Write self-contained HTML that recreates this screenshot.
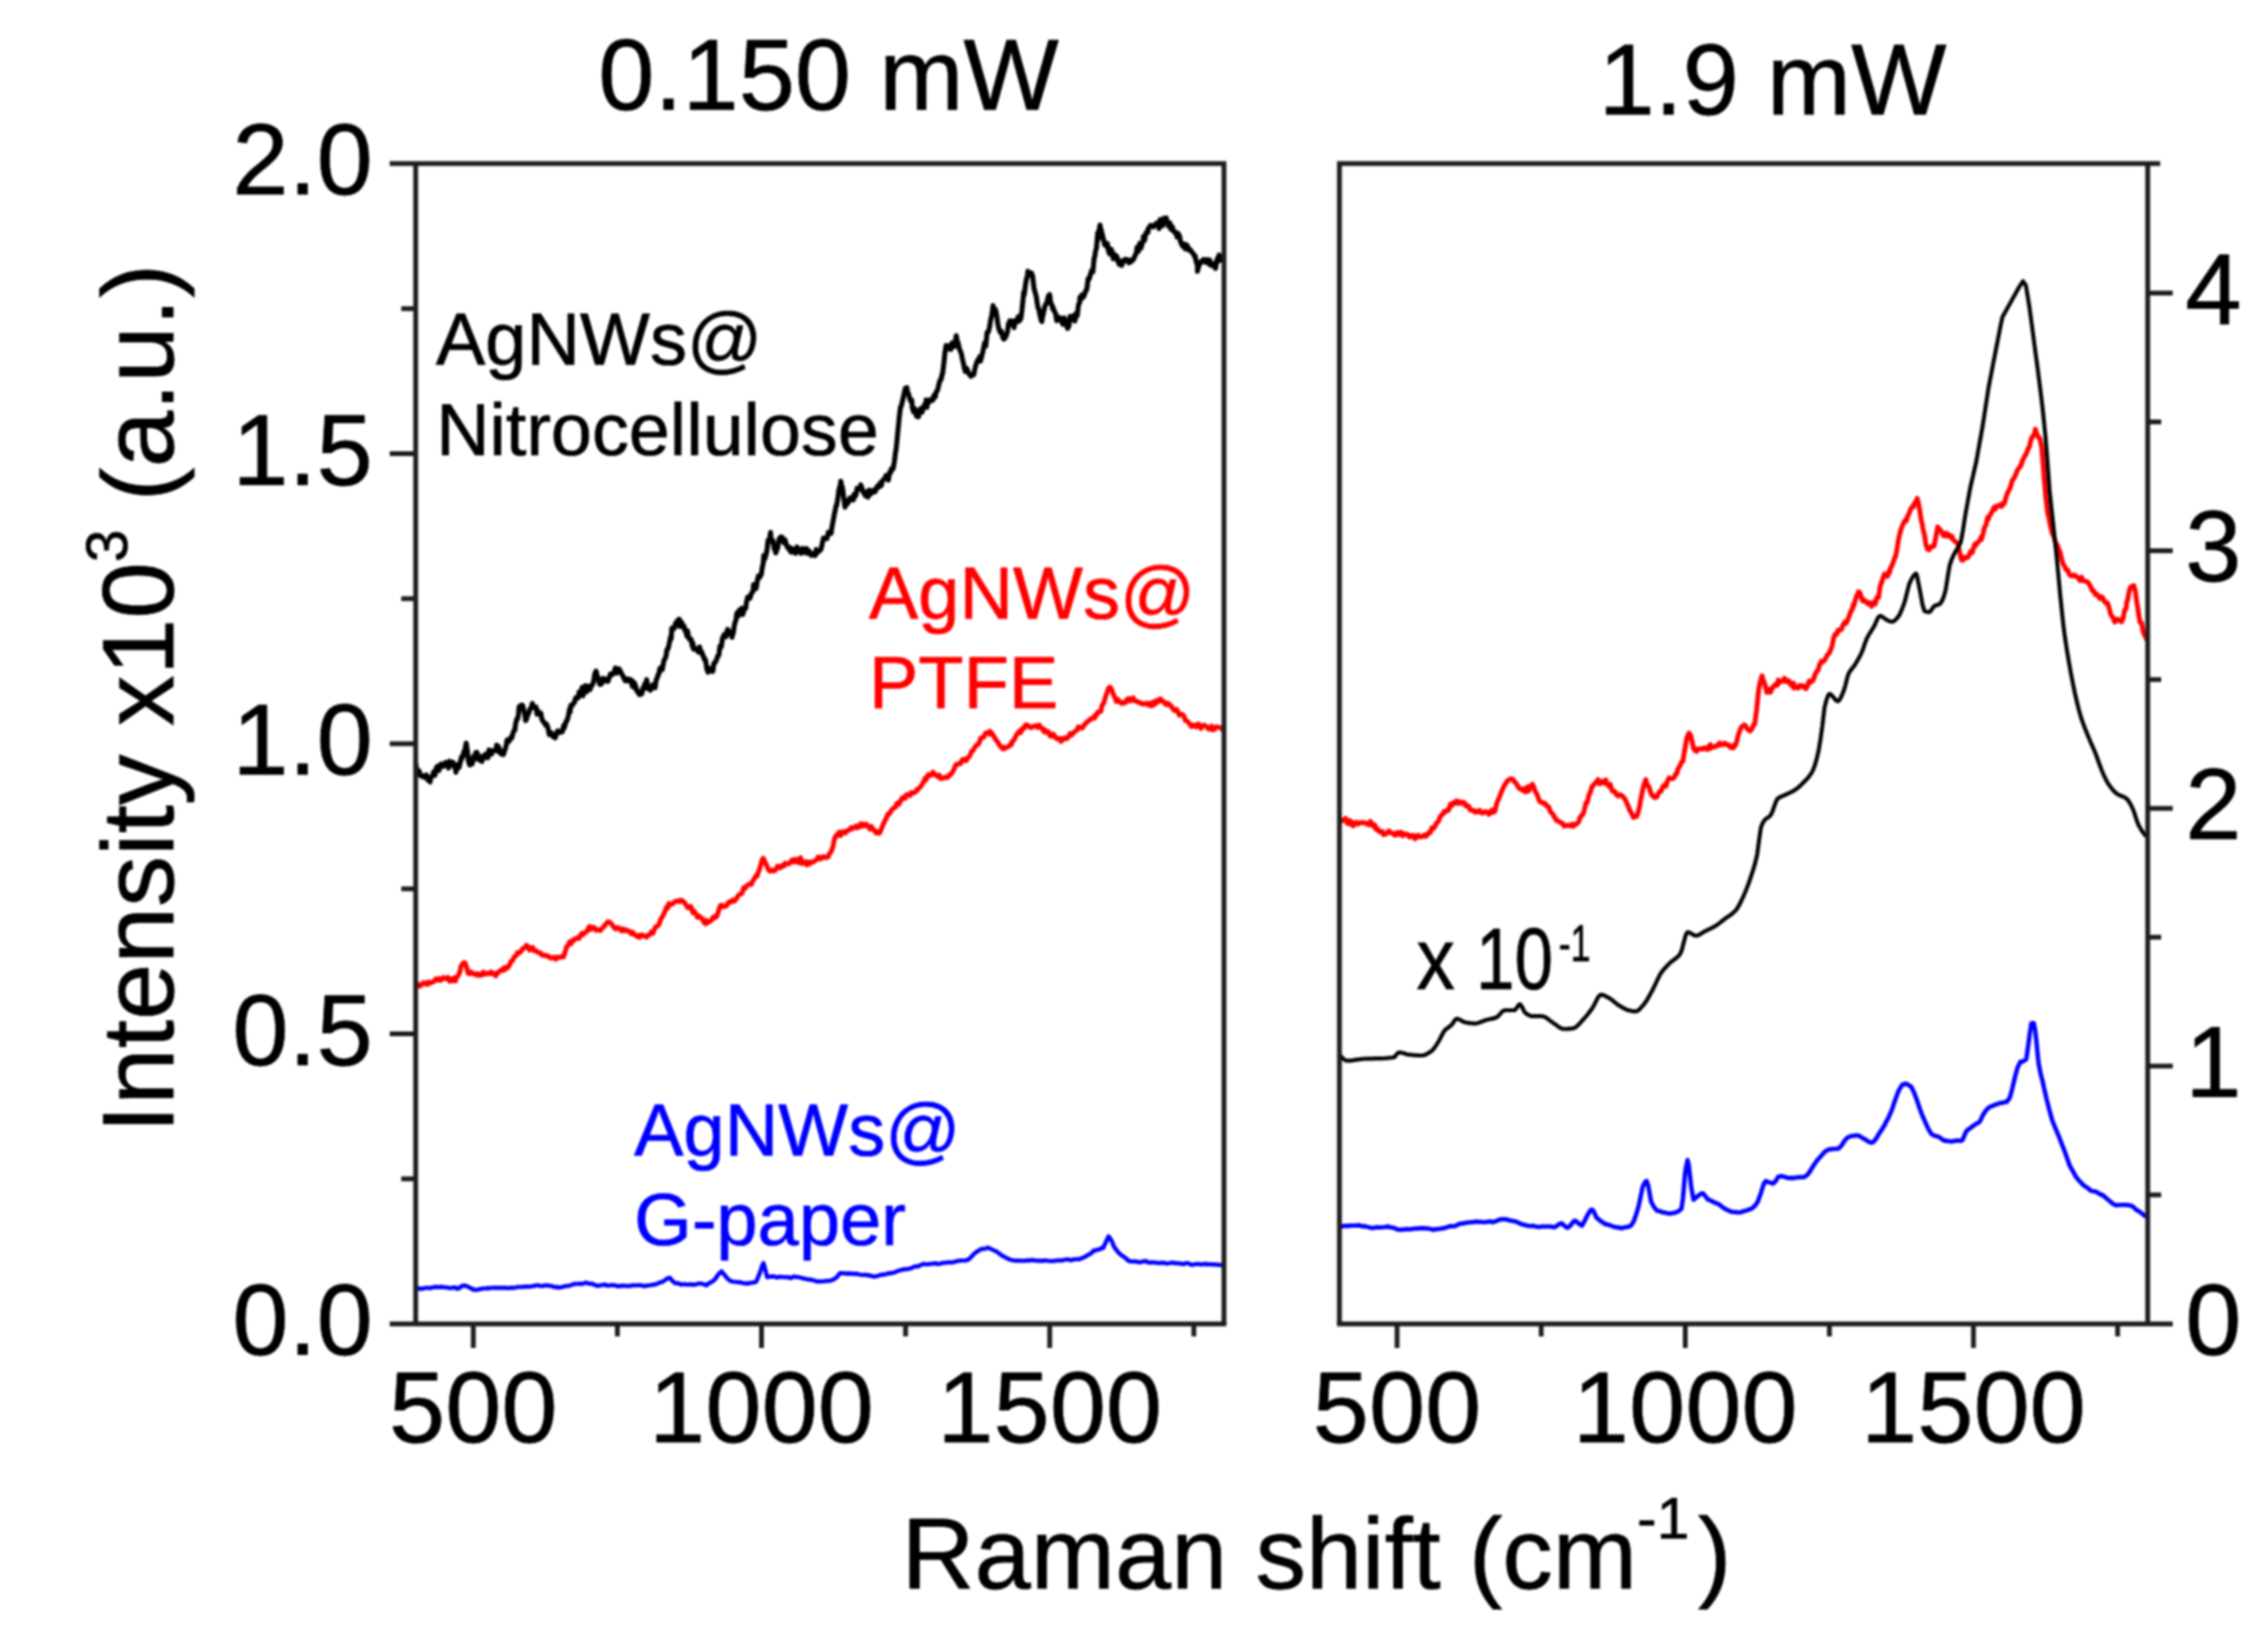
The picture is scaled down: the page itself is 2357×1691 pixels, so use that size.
<!DOCTYPE html>
<html><head><meta charset="utf-8"><title>Raman spectra</title>
<style>html,body{margin:0;padding:0;background:#fff}body{width:2357px;height:1691px;overflow:hidden}</style></head>
<body>
<svg width="2357" height="1691" viewBox="0 0 2357 1691" style="display:block;filter:blur(0.8px)">
<rect width="2357" height="1691" fill="#fff"/>
<g fill="none" stroke-linejoin="round" stroke-linecap="butt">
<path d="M432.0 793.8 L433.2 799.5 L434.5 803.1 L435.8 801.5 L436.2 805.6 L437.0 805.8 L438.2 806.9 L439.5 806.1 L440.8 807.8 L442.0 807.1 L443.2 805.4 L444.5 810.6 L445.8 810.7 L447.0 812.7 L447.5 808.9 L448.2 807.6 L449.5 806.2 L450.8 802.1 L452.0 805.8 L453.2 798.8 L454.5 796.6 L455.8 797.4 L456.2 800.9 L457.0 797.6 L458.2 794.0 L459.5 794.1 L460.8 796.5 L462.0 794.2 L463.2 792.4 L464.5 793.4 L465.8 795.5 L466.2 798.3 L467.0 791.1 L468.2 793.4 L469.5 794.4 L470.8 792.2 L472.0 797.0 L473.2 797.6 L473.8 802.6 L474.5 799.5 L475.8 794.7 L477.0 797.9 L478.2 793.0 L479.5 787.0 L480.0 788.6 L480.8 786.6 L482.0 781.5 L483.2 779.4 L484.5 772.3 L485.8 781.3 L487.0 791.9 L488.0 794.5 L488.2 795.0 L489.5 794.3 L490.8 793.8 L492.0 786.1 L493.2 789.2 L494.5 782.1 L495.0 784.9 L495.8 781.9 L497.0 788.9 L498.2 789.8 L499.5 786.6 L500.8 791.4 L502.0 785.9 L502.5 787.8 L503.2 787.7 L504.5 783.8 L505.8 785.7 L507.0 787.5 L508.2 779.3 L508.8 783.3 L509.5 780.4 L510.8 783.9 L512.0 780.2 L513.2 779.9 L514.5 779.3 L515.8 778.1 L516.2 774.3 L517.0 781.0 L518.2 776.1 L519.5 781.6 L520.8 783.8 L521.2 780.6 L522.0 782.7 L523.2 784.2 L524.5 780.0 L525.8 776.0 L527.0 769.1 L528.2 771.2 L529.5 769.6 L530.0 768.8 L530.8 766.3 L532.0 766.7 L533.2 761.4 L534.5 758.9 L535.0 759.1 L535.8 752.5 L537.0 747.3 L538.2 746.8 L538.8 742.0 L539.5 734.6 L540.8 733.6 L542.0 732.8 L542.5 734.1 L543.2 733.3 L544.5 739.0 L545.8 745.0 L546.2 749.0 L547.0 747.8 L548.2 743.7 L549.5 741.1 L550.8 736.8 L552.0 736.2 L553.2 731.1 L553.8 733.6 L554.5 734.8 L555.8 735.5 L557.0 734.8 L558.2 742.3 L558.8 738.4 L559.5 742.1 L560.8 741.4 L562.0 741.2 L563.2 747.7 L564.5 749.9 L565.8 751.0 L567.0 753.7 L567.5 752.3 L568.2 753.2 L569.5 756.5 L570.8 763.5 L572.0 763.0 L573.2 761.7 L574.5 765.5 L575.8 763.8 L576.2 763.9 L577.0 766.9 L578.2 763.2 L579.5 759.8 L580.8 760.4 L582.0 761.2 L583.2 759.7 L584.5 760.5 L585.8 754.1 L586.2 756.7 L587.0 754.6 L588.2 750.0 L589.5 748.3 L590.8 743.4 L592.0 736.7 L592.5 740.0 L593.2 733.1 L594.5 733.6 L595.8 731.2 L597.0 730.0 L598.2 725.4 L598.8 726.2 L599.5 724.7 L600.8 725.2 L602.0 719.1 L603.2 719.3 L604.5 717.3 L605.0 714.5 L605.8 723.2 L607.0 716.4 L608.2 712.7 L609.5 719.1 L610.8 713.1 L612.0 716.1 L613.2 716.7 L614.5 712.6 L615.0 712.8 L615.8 711.3 L617.0 708.1 L618.2 699.9 L619.5 697.5 L620.0 699.7 L620.8 703.0 L622.0 705.0 L623.2 711.2 L624.5 711.3 L625.0 708.8 L625.8 709.7 L627.0 705.0 L628.2 706.9 L629.5 706.0 L630.8 708.1 L632.0 708.1 L632.5 705.0 L633.2 704.2 L634.5 700.4 L635.8 701.5 L637.0 700.2 L638.2 698.6 L639.5 694.2 L640.8 699.7 L641.2 697.7 L642.0 695.0 L643.2 695.0 L644.5 697.1 L645.8 700.1 L647.0 701.7 L648.2 704.4 L648.8 705.5 L649.5 707.5 L650.8 707.8 L652.0 705.6 L653.2 707.4 L654.5 706.2 L655.8 706.5 L657.0 713.0 L658.2 708.5 L658.8 714.6 L659.5 710.1 L660.8 713.8 L662.0 718.5 L663.2 718.8 L664.5 722.0 L665.8 721.8 L666.2 721.4 L667.0 720.9 L668.2 714.8 L669.5 715.5 L670.0 710.9 L670.8 715.4 L672.0 706.4 L673.2 714.0 L674.5 716.2 L675.0 714.3 L675.8 717.4 L677.0 715.5 L678.2 711.9 L679.5 711.6 L680.8 714.9 L682.0 706.5 L683.2 704.2 L683.8 701.5 L684.5 701.2 L685.8 694.8 L687.0 693.8 L688.2 696.1 L689.5 689.0 L690.0 686.5 L690.8 685.1 L692.0 682.6 L693.2 675.0 L694.5 673.8 L695.8 667.3 L697.0 661.6 L697.5 664.0 L698.2 652.8 L699.5 654.0 L700.8 653.0 L702.0 647.7 L703.2 647.2 L704.5 644.5 L705.8 643.6 L706.2 651.2 L707.0 646.7 L708.2 646.4 L709.5 651.6 L710.8 650.6 L712.0 655.9 L713.2 657.4 L713.8 661.2 L714.5 655.7 L715.8 663.4 L717.0 664.7 L718.2 664.3 L719.5 671.7 L720.0 668.0 L720.8 674.7 L722.0 673.5 L723.2 675.1 L724.5 674.8 L725.8 677.7 L727.0 672.4 L728.2 678.1 L729.5 677.9 L730.0 680.7 L730.8 681.1 L732.0 685.5 L733.2 685.5 L734.5 694.9 L735.8 698.7 L737.0 694.4 L737.5 695.0 L738.2 695.6 L739.5 697.2 L740.8 697.7 L742.0 689.2 L743.2 688.8 L744.5 685.9 L745.0 684.9 L745.8 681.8 L747.0 681.2 L748.2 671.5 L749.5 672.4 L750.0 669.6 L750.8 663.4 L752.0 660.6 L753.2 659.1 L754.5 661.8 L755.8 655.6 L756.2 654.1 L757.0 657.5 L758.2 658.8 L759.5 656.9 L760.8 662.4 L761.2 659.3 L762.0 658.5 L763.2 649.6 L764.5 645.2 L765.0 643.4 L765.8 637.0 L767.0 640.7 L768.2 634.2 L769.5 636.8 L770.8 632.1 L772.0 638.8 L773.2 633.4 L774.5 632.8 L775.0 632.1 L775.8 625.5 L777.0 620.6 L778.2 622.1 L779.5 621.7 L780.8 616.7 L782.0 615.4 L782.5 614.7 L783.2 607.6 L784.5 609.6 L785.8 611.6 L787.0 603.9 L788.2 598.6 L789.5 600.2 L790.8 596.6 L791.2 597.2 L792.0 590.7 L793.2 585.2 L793.8 577.4 L794.5 581.4 L795.8 577.8 L797.0 572.2 L798.2 561.5 L799.5 562.6 L800.8 553.3 L801.2 560.7 L802.0 560.6 L803.2 562.1 L804.5 569.8 L805.8 572.5 L806.2 574.7 L807.0 572.2 L808.2 569.7 L809.5 560.7 L810.8 558.7 L812.0 557.9 L812.5 559.4 L813.2 559.0 L814.5 564.0 L815.8 561.0 L817.0 565.1 L818.2 568.6 L819.5 569.2 L820.0 571.1 L820.8 569.0 L822.0 573.9 L823.2 570.2 L824.5 573.7 L825.8 571.3 L827.0 575.0 L828.2 568.5 L829.5 573.1 L830.8 571.1 L832.0 572.9 L832.5 575.2 L833.2 570.1 L834.5 570.0 L835.8 571.2 L837.0 574.5 L838.2 570.1 L839.5 575.1 L840.0 572.0 L840.8 572.6 L842.0 574.9 L843.2 577.2 L844.5 575.4 L845.8 576.1 L847.0 577.4 L847.5 576.9 L848.2 571.0 L849.5 574.5 L850.8 573.0 L852.0 572.1 L853.2 571.0 L854.5 565.0 L855.0 562.7 L855.8 559.1 L857.0 559.9 L858.2 560.0 L859.5 559.7 L860.8 553.2 L862.0 553.9 L863.2 553.0 L863.8 554.3 L864.5 548.5 L865.8 541.5 L867.0 534.9 L868.2 529.2 L868.8 526.0 L869.5 525.2 L870.8 517.2 L872.0 508.4 L873.2 504.5 L873.8 500.2 L874.5 503.6 L875.8 508.7 L877.0 518.4 L878.2 527.2 L878.8 524.9 L879.5 520.6 L880.8 523.5 L882.0 521.1 L883.2 517.6 L884.5 517.4 L885.8 519.6 L887.0 519.5 L887.5 513.9 L888.2 516.3 L889.5 514.8 L890.8 507.5 L892.0 508.4 L893.2 507.5 L893.8 507.9 L894.5 503.9 L895.8 507.4 L897.0 511.5 L898.2 513.0 L899.5 515.4 L900.8 511.2 L902.0 516.8 L902.5 514.0 L903.2 509.3 L904.5 513.8 L905.8 510.6 L907.0 511.7 L908.2 509.2 L909.5 511.0 L910.8 507.5 L912.0 504.9 L913.2 506.5 L914.5 503.6 L915.0 501.6 L915.8 504.8 L917.0 499.8 L918.2 498.3 L919.5 497.4 L920.8 494.2 L922.0 495.0 L923.2 499.0 L924.5 490.9 L925.8 491.0 L926.2 487.5 L927.0 486.8 L928.2 487.1 L929.5 479.6 L930.8 469.1 L931.2 467.5 L932.0 460.0 L933.2 447.6 L934.5 433.9 L935.8 423.2 L936.2 423.2 L937.0 420.6 L938.2 415.4 L939.5 409.6 L940.8 403.7 L942.0 405.0 L942.5 402.9 L943.2 407.7 L944.5 410.4 L945.8 415.7 L947.0 417.8 L947.5 415.8 L948.2 424.1 L949.5 428.1 L950.8 424.7 L952.0 430.1 L952.5 432.7 L953.2 427.4 L954.5 433.3 L955.8 427.4 L957.0 424.4 L958.2 428.4 L959.5 424.3 L960.8 420.5 L962.0 422.5 L962.5 415.5 L963.2 423.5 L964.5 416.3 L965.8 417.8 L967.0 415.2 L968.2 416.1 L969.5 415.9 L970.8 410.6 L972.0 412.6 L972.5 409.3 L973.2 407.0 L974.5 405.0 L975.8 399.2 L977.0 395.1 L978.2 394.2 L978.8 389.7 L979.5 388.8 L980.8 378.7 L982.0 366.8 L983.2 359.0 L983.8 360.9 L984.5 362.6 L985.8 361.5 L987.0 359.3 L988.2 363.2 L989.5 356.3 L990.0 357.1 L990.8 359.0 L992.0 359.9 L993.2 352.6 L993.8 348.9 L994.5 353.3 L995.8 356.8 L997.0 362.6 L998.2 365.2 L999.5 369.2 L1000.0 372.8 L1000.8 375.4 L1002.0 381.5 L1003.2 386.0 L1004.5 382.7 L1005.8 385.8 L1007.0 388.7 L1008.2 389.3 L1008.8 391.1 L1009.5 390.9 L1010.8 389.0 L1012.0 389.3 L1013.2 383.1 L1014.5 378.3 L1015.8 374.7 L1016.2 375.1 L1017.0 374.1 L1018.2 370.6 L1018.8 375.5 L1019.5 373.0 L1020.8 368.1 L1022.0 362.7 L1023.2 356.6 L1023.8 356.0 L1024.5 359.8 L1025.8 345.4 L1027.0 345.3 L1028.2 341.1 L1028.8 337.1 L1029.5 332.6 L1030.8 327.5 L1032.0 317.5 L1032.6 320.5 L1033.2 323.2 L1034.5 321.5 L1035.8 327.5 L1036.4 332.1 L1037.0 336.4 L1038.2 342.3 L1039.5 345.4 L1040.1 344.0 L1040.8 344.4 L1042.0 350.3 L1043.2 352.5 L1043.9 349.3 L1044.5 351.4 L1045.8 348.4 L1047.0 344.9 L1048.2 335.8 L1048.9 338.1 L1049.5 333.4 L1050.8 333.9 L1052.0 333.8 L1053.2 336.8 L1053.9 340.6 L1054.5 333.4 L1055.8 333.7 L1057.0 334.7 L1058.2 329.1 L1059.5 333.5 L1059.6 328.9 L1060.8 331.7 L1062.0 322.8 L1063.2 311.0 L1063.9 303.6 L1064.5 306.1 L1065.8 295.3 L1067.0 288.8 L1067.7 287.9 L1068.2 281.8 L1069.5 285.0 L1070.8 285.3 L1071.5 283.6 L1072.0 283.9 L1073.2 287.2 L1074.5 299.1 L1075.2 302.1 L1075.8 304.1 L1077.0 308.4 L1078.2 317.0 L1079.0 320.8 L1079.5 320.9 L1080.8 327.5 L1082.0 332.7 L1082.8 334.2 L1083.2 330.5 L1084.5 325.1 L1085.8 318.6 L1086.5 316.7 L1087.0 316.5 L1088.2 313.6 L1089.5 307.6 L1090.3 308.3 L1090.8 306.1 L1092.0 315.3 L1093.2 316.9 L1094.0 321.3 L1094.5 319.9 L1095.8 323.8 L1097.0 325.6 L1098.2 333.3 L1099.5 331.9 L1100.3 331.4 L1100.8 329.8 L1102.0 331.1 L1103.2 334.2 L1104.5 337.0 L1105.8 330.4 L1106.6 332.2 L1107.0 334.6 L1108.2 338.5 L1109.1 338.0 L1109.5 341.5 L1110.8 339.3 L1112.0 328.9 L1112.9 331.0 L1113.2 332.3 L1114.5 331.5 L1115.8 327.8 L1117.0 333.6 L1118.2 328.9 L1119.1 324.9 L1119.5 328.2 L1120.8 316.8 L1122.0 314.6 L1122.3 308.8 L1123.2 311.4 L1124.5 306.4 L1125.8 308.9 L1127.0 306.3 L1127.9 303.9 L1128.2 302.2 L1129.5 300.9 L1130.8 289.7 L1132.0 289.9 L1132.9 286.3 L1133.2 285.4 L1134.5 281.1 L1135.8 282.6 L1137.0 268.8 L1137.9 265.9 L1138.2 262.7 L1139.5 257.6 L1140.8 241.9 L1141.1 249.1 L1142.0 240.4 L1143.2 233.9 L1143.6 236.5 L1144.5 239.8 L1145.8 245.0 L1147.0 249.7 L1148.0 254.6 L1148.2 253.3 L1149.5 255.7 L1150.8 253.0 L1152.0 261.0 L1153.2 263.9 L1154.2 261.8 L1154.5 258.8 L1155.8 261.2 L1157.0 269.0 L1158.2 264.6 L1159.5 265.6 L1160.8 266.7 L1161.8 271.9 L1162.0 269.9 L1163.0 274.6 L1163.2 273.1 L1164.5 275.3 L1165.8 275.8 L1167.0 271.0 L1168.2 271.6 L1169.3 269.5 L1169.5 269.4 L1170.8 269.8 L1172.0 270.1 L1173.2 273.2 L1174.5 272.5 L1175.5 270.2 L1175.8 271.8 L1177.0 270.3 L1178.2 269.3 L1179.5 265.7 L1180.8 263.4 L1181.8 256.9 L1182.0 260.8 L1183.2 261.0 L1184.5 252.9 L1185.8 257.8 L1187.0 252.8 L1188.1 249.8 L1188.2 245.8 L1189.5 249.9 L1190.8 242.4 L1192.0 240.9 L1193.1 241.5 L1193.2 237.7 L1194.5 236.1 L1195.8 234.2 L1197.0 235.3 L1198.2 235.9 L1199.4 234.9 L1199.5 234.8 L1200.8 232.8 L1202.0 233.7 L1203.2 231.6 L1204.5 237.6 L1205.6 233.1 L1205.8 228.2 L1207.0 229.5 L1208.2 234.7 L1209.5 226.9 L1210.8 228.2 L1211.9 229.9 L1212.0 226.4 L1213.2 232.1 L1214.5 235.2 L1215.8 231.6 L1217.0 238.4 L1218.2 235.7 L1218.2 235.5 L1219.5 240.0 L1220.8 241.6 L1222.0 241.3 L1223.2 246.3 L1224.5 242.7 L1225.7 245.8 L1225.8 245.3 L1227.0 251.7 L1228.2 254.3 L1229.5 256.3 L1230.8 253.7 L1232.0 258.1 L1232.0 258.8 L1233.2 254.4 L1234.5 256.5 L1235.8 260.1 L1237.0 260.6 L1237.0 259.6 L1238.2 261.4 L1239.5 262.9 L1240.8 265.2 L1242.0 267.5 L1242.0 265.8 L1243.2 272.3 L1244.5 275.7 L1244.5 281.9 L1245.8 276.5 L1247.0 274.4 L1248.2 272.0 L1249.5 270.7 L1250.8 269.7 L1250.8 271.6 L1252.0 270.4 L1253.2 272.7 L1254.5 269.8 L1255.8 272.9 L1257.0 274.8 L1257.1 270.2 L1258.2 274.3 L1259.5 276.2 L1260.8 276.4 L1262.0 276.7 L1262.1 273.6 L1263.2 279.0 L1264.5 270.9 L1265.8 267.5 L1265.8 271.8 L1267.0 265.0 L1268.2 270.4 L1269.5 268.3 L1270.8 268.1 L1272.0 266.6" stroke="#000" stroke-width="5.2"/>
<path d="M432.0 1025.0 L433.6 1025.3 L435.2 1023.2 L436.8 1024.9 L438.4 1023.2 L440.0 1021.4 L441.6 1022.1 L443.2 1023.2 L444.8 1022.5 L445.0 1020.6 L446.4 1022.3 L448.0 1020.9 L449.6 1020.8 L451.2 1020.0 L452.8 1017.5 L454.4 1018.6 L456.0 1016.9 L457.6 1019.1 L459.2 1017.9 L460.0 1017.1 L460.8 1015.8 L462.4 1017.1 L464.0 1017.3 L465.6 1015.7 L467.2 1019.9 L468.8 1017.8 L470.4 1019.5 L472.0 1016.1 L473.6 1019.5 L473.8 1015.9 L475.2 1015.3 L476.8 1013.1 L478.4 1008.4 L478.8 1004.7 L480.0 1002.7 L481.6 1000.7 L482.5 1001.3 L483.2 1000.6 L484.8 1004.8 L486.4 1011.5 L487.0 1009.9 L488.0 1012.1 L489.6 1010.1 L491.2 1012.0 L492.8 1012.0 L494.4 1013.3 L496.0 1012.0 L497.6 1013.9 L499.2 1012.3 L500.0 1013.5 L500.8 1013.4 L502.4 1010.3 L504.0 1012.4 L505.6 1012.3 L507.2 1011.2 L508.8 1012.2 L510.4 1010.1 L512.0 1012.3 L513.6 1012.1 L515.0 1011.6 L515.2 1014.2 L516.8 1011.2 L518.4 1010.3 L520.0 1008.6 L521.6 1008.9 L523.2 1006.3 L524.8 1007.9 L525.0 1005.5 L526.4 1005.3 L528.0 1005.7 L529.6 1002.6 L531.2 999.2 L532.8 998.3 L534.4 994.4 L536.0 993.6 L537.5 991.3 L537.6 990.1 L539.2 990.5 L540.8 989.8 L542.4 987.1 L544.0 985.2 L545.6 985.1 L547.2 982.3 L548.8 984.3 L548.8 983.7 L550.4 987.6 L552.0 985.1 L553.6 984.6 L555.2 988.4 L556.8 988.1 L558.4 989.3 L560.0 990.2 L560.0 990.3 L561.6 990.3 L563.2 992.7 L564.8 993.0 L566.4 992.6 L568.0 993.8 L569.6 993.4 L571.2 995.2 L572.5 995.9 L572.8 995.8 L574.4 995.7 L576.0 994.8 L577.6 996.9 L579.2 994.8 L580.8 995.0 L582.4 994.6 L582.5 995.1 L584.0 994.0 L585.6 994.6 L587.2 989.8 L588.8 984.0 L590.4 982.5 L592.0 978.8 L592.5 981.1 L593.6 980.6 L595.2 977.1 L596.8 977.2 L598.4 975.2 L600.0 974.9 L601.6 975.5 L603.2 972.0 L604.8 969.9 L605.0 972.1 L606.4 970.7 L608.0 969.4 L609.6 968.4 L611.2 965.1 L612.8 962.8 L613.8 966.2 L614.4 964.5 L616.0 963.7 L617.6 963.9 L619.2 966.9 L620.8 966.1 L622.4 966.4 L624.0 967.2 L625.0 965.4 L625.6 964.8 L627.2 963.7 L628.8 961.1 L630.4 959.8 L632.0 957.8 L632.5 958.8 L633.6 958.4 L635.2 959.9 L636.8 962.1 L638.4 964.4 L640.0 965.6 L640.0 963.9 L641.6 964.6 L643.2 964.3 L644.8 966.5 L646.4 967.6 L648.0 965.4 L649.6 967.5 L651.2 966.6 L652.5 967.3 L652.8 967.8 L654.4 968.0 L656.0 970.7 L657.6 969.0 L659.2 971.1 L660.8 972.8 L662.4 972.3 L663.8 974.2 L664.0 971.9 L665.6 973.7 L667.2 971.6 L668.8 972.7 L670.4 972.8 L672.0 974.1 L673.6 971.9 L675.2 971.6 L676.8 968.6 L678.4 970.0 L680.0 966.0 L680.0 965.9 L681.6 963.1 L683.2 962.6 L684.8 960.9 L686.4 956.0 L688.0 953.4 L688.8 951.9 L689.6 950.5 L691.2 946.9 L692.8 942.7 L694.4 943.5 L695.0 938.9 L696.0 939.4 L697.6 939.8 L699.2 939.6 L700.8 937.4 L702.4 936.6 L704.0 936.6 L705.6 936.0 L706.2 937.3 L707.2 935.8 L708.8 935.7 L710.4 937.2 L712.0 939.1 L713.6 941.8 L715.2 943.7 L716.8 942.7 L717.5 942.0 L718.4 942.9 L720.0 948.6 L721.6 947.2 L723.2 950.0 L724.8 953.4 L726.4 951.9 L727.5 953.5 L728.0 953.5 L729.6 954.6 L731.2 958.4 L732.8 959.8 L733.8 956.5 L734.4 959.9 L736.0 958.0 L737.6 957.7 L739.2 956.7 L740.8 953.8 L741.2 954.6 L742.4 952.6 L744.0 953.5 L745.6 950.7 L747.2 945.0 L748.8 941.0 L750.0 942.6 L750.4 940.8 L752.0 942.3 L753.6 942.0 L755.2 941.2 L756.8 938.3 L758.4 937.0 L760.0 936.7 L760.0 937.4 L761.6 935.4 L763.2 936.7 L764.8 934.6 L766.4 932.1 L768.0 929.9 L769.6 929.4 L771.2 928.4 L772.8 922.6 L774.4 923.4 L775.0 922.1 L776.0 920.6 L777.6 919.6 L779.2 918.7 L780.8 919.3 L782.4 915.6 L784.0 913.2 L785.6 910.2 L787.2 910.2 L787.5 907.8 L788.8 905.0 L790.4 899.7 L792.0 893.7 L793.0 892.0 L793.6 892.6 L795.2 896.5 L796.8 899.5 L798.4 903.6 L800.0 905.5 L800.0 904.6 L801.6 905.3 L803.2 904.1 L804.8 905.2 L806.4 903.7 L808.0 900.2 L809.6 901.2 L811.2 901.9 L812.8 899.5 L814.4 898.5 L815.0 899.9 L816.0 897.1 L817.6 897.8 L819.2 897.7 L820.8 897.3 L822.4 894.4 L824.0 893.5 L825.6 896.2 L827.2 893.1 L828.8 893.7 L830.0 896.7 L830.4 893.2 L832.0 891.3 L833.6 897.6 L835.2 895.9 L836.8 895.6 L838.4 899.0 L840.0 895.9 L841.6 897.9 L842.5 896.3 L843.2 895.8 L844.8 896.1 L846.4 895.0 L848.0 894.0 L849.6 892.8 L850.0 890.7 L851.2 890.8 L852.8 892.9 L854.4 891.0 L856.0 890.2 L857.6 891.4 L859.2 891.1 L860.8 890.5 L861.2 888.1 L862.4 887.0 L864.0 884.6 L865.6 880.0 L867.2 871.9 L868.8 868.7 L870.0 867.2 L870.4 868.4 L872.0 864.8 L873.6 868.5 L875.2 864.6 L876.8 864.5 L878.4 865.9 L880.0 863.5 L881.6 863.2 L883.2 861.6 L884.8 861.9 L885.0 860.0 L886.4 860.7 L888.0 860.3 L889.6 858.5 L891.2 860.4 L892.8 859.3 L894.4 856.0 L896.0 858.9 L897.6 856.6 L899.2 858.2 L900.0 856.5 L900.8 857.2 L902.4 858.7 L904.0 861.7 L905.6 858.9 L907.2 861.7 L908.8 863.0 L910.4 865.8 L912.0 864.7 L912.5 865.5 L913.6 866.2 L915.2 863.6 L916.8 859.3 L918.4 855.7 L920.0 852.2 L921.6 849.3 L922.9 845.9 L923.2 846.5 L924.8 845.2 L926.4 842.1 L928.0 840.3 L929.6 839.5 L931.2 838.4 L931.7 835.3 L932.8 834.6 L934.4 835.6 L936.0 832.3 L937.6 829.3 L939.2 829.3 L940.6 830.0 L940.8 827.2 L942.4 825.7 L944.0 825.7 L945.6 827.1 L947.2 823.6 L948.8 824.3 L950.4 823.9 L952.0 822.4 L952.9 820.6 L953.6 821.2 L955.2 818.9 L956.8 817.6 L958.4 814.9 L960.0 812.5 L961.6 808.5 L961.7 811.2 L963.2 808.9 L964.8 804.9 L966.4 806.0 L968.0 805.6 L968.8 805.0 L969.6 802.3 L971.2 804.9 L972.8 805.5 L974.4 807.2 L976.0 805.6 L977.6 809.0 L977.6 809.3 L979.2 809.3 L980.8 808.2 L982.4 807.7 L984.0 808.4 L985.6 807.0 L986.4 805.5 L987.2 805.8 L988.8 804.0 L990.4 801.6 L992.0 797.9 L993.5 794.5 L993.6 794.8 L995.2 794.4 L996.8 793.6 L998.4 793.7 L1000.0 789.5 L1001.6 790.1 L1003.2 788.6 L1004.1 790.6 L1004.8 789.5 L1006.4 787.1 L1008.0 785.3 L1009.6 781.1 L1011.2 779.9 L1012.8 777.1 L1012.9 777.1 L1014.4 774.8 L1016.0 774.0 L1017.6 772.1 L1019.2 767.2 L1020.8 766.6 L1021.7 766.5 L1022.4 766.4 L1024.0 762.2 L1025.6 761.5 L1027.2 761.1 L1028.7 763.2 L1028.8 760.0 L1030.4 761.5 L1032.0 764.0 L1033.6 766.5 L1035.2 769.3 L1035.8 769.9 L1036.8 771.0 L1038.4 773.9 L1040.0 776.1 L1041.6 777.8 L1042.9 778.3 L1043.2 776.4 L1044.8 777.6 L1046.4 776.6 L1048.0 776.1 L1049.6 774.5 L1051.2 774.0 L1051.7 770.7 L1052.8 770.2 L1054.4 768.1 L1056.0 764.3 L1057.6 762.2 L1058.7 760.6 L1059.2 760.0 L1060.8 761.5 L1062.4 757.0 L1064.0 757.4 L1065.6 753.5 L1067.2 754.4 L1067.5 753.3 L1068.8 754.4 L1070.4 756.0 L1072.0 756.3 L1073.6 755.0 L1075.2 754.6 L1076.4 754.0 L1076.8 754.5 L1078.4 756.2 L1080.0 753.5 L1081.6 756.3 L1083.2 756.8 L1084.8 760.3 L1085.2 757.9 L1086.4 761.1 L1088.0 759.7 L1089.6 760.8 L1091.2 764.8 L1092.8 765.2 L1094.0 763.6 L1094.4 762.8 L1096.0 764.7 L1097.6 767.6 L1099.2 767.9 L1100.8 767.5 L1102.4 769.7 L1102.8 770.7 L1104.0 767.6 L1105.6 768.3 L1107.2 766.6 L1108.8 767.8 L1110.4 765.6 L1111.6 763.8 L1112.0 762.4 L1113.6 764.1 L1115.2 761.6 L1116.8 760.7 L1118.4 759.0 L1120.0 758.4 L1120.5 755.5 L1121.6 755.8 L1123.2 756.0 L1124.8 756.7 L1126.4 753.9 L1128.0 752.3 L1129.3 750.6 L1129.6 750.3 L1131.2 749.6 L1132.8 747.5 L1134.4 747.2 L1136.0 745.6 L1137.6 746.3 L1138.1 743.3 L1139.2 743.6 L1140.8 740.1 L1142.4 739.9 L1144.0 739.4 L1145.1 734.0 L1145.6 732.4 L1147.2 730.7 L1148.8 724.5 L1149.6 722.0 L1150.4 720.3 L1152.0 715.2 L1153.1 715.0 L1153.6 714.2 L1155.2 716.4 L1156.8 720.9 L1158.4 724.5 L1159.3 726.3 L1160.0 729.2 L1161.6 726.8 L1163.2 729.1 L1164.8 730.7 L1166.3 730.1 L1166.4 731.2 L1168.0 730.0 L1169.6 730.4 L1171.2 727.1 L1172.8 726.0 L1174.4 728.7 L1176.0 726.3 L1176.9 725.9 L1177.6 725.2 L1179.2 728.6 L1180.8 728.5 L1182.4 729.8 L1184.0 729.7 L1185.6 731.2 L1185.7 730.6 L1187.2 731.2 L1188.8 731.9 L1190.4 731.1 L1192.0 730.8 L1193.6 732.9 L1195.2 730.8 L1196.3 733.7 L1196.8 733.8 L1198.4 729.7 L1200.0 732.2 L1201.6 728.2 L1203.2 729.7 L1204.8 726.9 L1205.1 728.5 L1206.4 726.5 L1208.0 729.1 L1209.6 729.3 L1211.2 732.1 L1212.8 732.2 L1213.9 730.9 L1214.4 732.7 L1216.0 732.5 L1217.6 734.5 L1219.2 737.3 L1220.8 738.5 L1222.4 738.1 L1222.8 737.2 L1224.0 739.4 L1225.6 743.3 L1227.2 742.4 L1228.8 742.5 L1229.8 743.6 L1230.4 744.4 L1232.0 749.1 L1233.6 749.4 L1235.2 750.8 L1236.8 753.6 L1238.4 755.2 L1238.6 753.9 L1240.0 753.3 L1241.6 754.6 L1243.2 755.5 L1244.8 752.6 L1246.4 753.0 L1248.0 757.2 L1249.2 755.4 L1249.6 755.4 L1251.2 753.6 L1252.8 754.4 L1254.4 755.6 L1256.0 757.8 L1257.6 756.6 L1259.2 754.7 L1259.8 758.5 L1260.8 758.6 L1262.4 757.7 L1264.0 755.3 L1265.6 755.8 L1267.2 756.1 L1268.8 756.5 L1270.4 758.2 L1272.0 755.8" stroke="#f00" stroke-width="5"/>
<path d="M432.0 1339.5 L435.0 1339.0 L438.0 1339.7 L441.0 1338.8 L444.0 1338.3 L447.0 1338.8 L450.0 1337.9 L453.0 1337.5 L454.9 1337.9 L456.0 1337.8 L459.0 1337.5 L462.0 1337.9 L465.0 1338.2 L468.0 1338.8 L471.0 1338.2 L474.0 1338.3 L474.3 1339.2 L477.0 1339.2 L480.0 1336.5 L482.1 1336.3 L483.0 1336.2 L486.0 1337.2 L489.0 1338.9 L491.8 1339.9 L492.0 1340.6 L495.0 1340.6 L498.0 1340.0 L501.0 1339.3 L504.0 1339.1 L507.0 1338.8 L507.3 1339.2 L510.0 1338.6 L513.0 1338.5 L516.0 1338.5 L519.0 1338.4 L522.0 1338.5 L525.0 1338.4 L528.0 1338.8 L531.0 1338.3 L534.0 1338.6 L536.4 1338.1 L537.0 1337.6 L540.0 1337.6 L543.0 1337.5 L546.0 1337.2 L549.0 1337.3 L552.0 1337.1 L555.0 1336.5 L558.0 1335.9 L559.7 1335.9 L561.0 1336.6 L564.0 1336.5 L567.0 1335.9 L570.0 1336.2 L573.0 1336.7 L576.0 1337.7 L579.0 1337.6 L581.0 1338.4 L582.0 1338.2 L585.0 1337.4 L588.0 1336.6 L591.0 1336.5 L594.0 1335.5 L597.0 1334.4 L600.0 1334.4 L603.0 1334.2 L604.3 1334.5 L606.0 1334.2 L609.0 1333.0 L612.0 1334.3 L615.0 1334.1 L618.0 1335.4 L621.0 1336.5 L624.0 1335.9 L627.0 1335.3 L629.5 1335.2 L630.0 1336.1 L633.0 1336.0 L636.0 1335.7 L639.0 1335.8 L642.0 1336.8 L645.0 1336.5 L648.0 1336.3 L648.9 1336.4 L651.0 1336.5 L654.0 1336.6 L657.0 1336.0 L660.0 1335.9 L663.0 1335.9 L666.0 1335.8 L669.0 1336.7 L672.0 1336.3 L672.2 1336.2 L675.0 1335.9 L678.0 1335.3 L681.0 1335.1 L684.0 1333.8 L687.0 1332.5 L687.7 1332.6 L690.0 1331.3 L693.0 1329.1 L694.5 1328.4 L696.0 1328.0 L699.0 1331.5 L701.3 1333.4 L702.0 1333.7 L705.0 1333.7 L708.0 1335.2 L711.0 1334.6 L714.0 1335.0 L716.8 1335.1 L717.0 1334.8 L720.0 1335.2 L723.0 1335.0 L726.0 1334.0 L729.0 1334.1 L732.0 1335.0 L734.3 1336.0 L735.0 1334.7 L738.0 1333.2 L741.0 1331.5 L744.0 1328.7 L744.0 1328.1 L747.0 1323.9 L749.8 1321.4 L750.0 1321.8 L753.0 1325.1 L756.0 1328.9 L757.6 1330.0 L759.0 1331.4 L762.0 1332.1 L765.0 1332.4 L768.0 1332.7 L769.2 1332.6 L771.0 1333.3 L774.0 1333.8 L777.0 1334.0 L780.0 1333.3 L783.0 1332.8 L784.7 1332.8 L786.0 1331.8 L789.0 1324.6 L789.6 1323.2 L792.0 1315.7 L793.5 1312.9 L795.0 1318.5 L797.3 1327.4 L798.0 1327.2 L801.0 1326.8 L804.0 1326.5 L807.0 1327.6 L808.0 1327.7 L810.0 1326.9 L813.0 1327.2 L816.0 1327.4 L819.0 1327.5 L822.0 1328.3 L823.5 1327.6 L825.0 1326.7 L828.0 1327.3 L831.0 1327.6 L834.0 1328.5 L837.0 1329.2 L840.0 1329.8 L842.9 1330.0 L843.0 1330.2 L846.0 1330.8 L849.0 1331.9 L851.6 1332.0 L852.0 1331.6 L855.0 1331.9 L858.0 1331.3 L861.0 1331.4 L864.0 1330.6 L867.0 1329.5 L867.2 1329.3 L870.0 1327.0 L873.0 1323.1 L874.9 1323.4 L876.0 1323.2 L879.0 1323.7 L882.0 1323.5 L885.0 1323.7 L888.0 1324.0 L890.4 1323.8 L891.0 1324.1 L894.0 1324.9 L897.0 1325.1 L900.0 1325.0 L903.0 1325.5 L906.0 1326.2 L907.9 1326.8 L909.0 1326.8 L912.0 1326.2 L915.0 1325.0 L918.0 1324.8 L921.0 1324.1 L923.4 1323.3 L924.0 1323.6 L927.0 1323.0 L930.0 1322.3 L933.0 1320.9 L936.0 1320.2 L939.0 1319.1 L940.9 1319.2 L942.0 1319.2 L945.0 1318.7 L948.0 1317.6 L951.0 1316.3 L954.0 1316.3 L957.0 1314.7 L960.0 1313.5 L960.3 1313.7 L963.0 1314.1 L966.0 1313.8 L969.0 1313.4 L972.0 1313.0 L975.0 1313.8 L978.0 1313.2 L979.7 1312.5 L981.0 1312.7 L984.0 1312.2 L987.0 1311.9 L990.0 1312.1 L993.0 1311.2 L995.2 1310.6 L996.0 1310.5 L999.0 1310.1 L1002.0 1310.1 L1005.0 1309.7 L1006.8 1308.8 L1008.0 1307.7 L1011.0 1304.5 L1014.0 1301.7 L1014.6 1301.2 L1017.0 1299.9 L1020.0 1298.0 L1023.0 1298.0 L1026.0 1297.1 L1026.2 1296.7 L1029.0 1297.6 L1032.0 1299.1 L1034.0 1300.1 L1035.0 1300.3 L1038.0 1302.5 L1041.0 1304.9 L1043.7 1306.0 L1044.0 1306.6 L1047.0 1307.9 L1050.0 1309.3 L1053.0 1309.8 L1053.4 1310.1 L1056.0 1310.2 L1059.0 1310.3 L1062.0 1310.4 L1065.0 1310.3 L1068.0 1309.8 L1068.9 1310.3 L1071.0 1309.7 L1074.0 1309.7 L1077.0 1310.4 L1080.0 1310.3 L1083.0 1310.6 L1084.4 1310.1 L1086.0 1310.0 L1089.0 1310.4 L1092.0 1310.6 L1095.0 1310.7 L1098.0 1310.1 L1101.0 1309.9 L1101.9 1310.1 L1104.0 1310.0 L1107.0 1309.1 L1110.0 1309.0 L1113.0 1309.8 L1116.0 1308.8 L1119.0 1308.9 L1119.4 1308.7 L1122.0 1308.7 L1125.0 1307.3 L1128.0 1306.2 L1129.1 1305.0 L1131.0 1304.3 L1134.0 1302.5 L1136.8 1299.6 L1137.0 1300.2 L1140.0 1299.0 L1143.0 1298.3 L1146.0 1296.3 L1146.5 1297.1 L1149.0 1291.5 L1152.0 1285.1 L1152.0 1284.9 L1155.0 1289.0 L1158.0 1296.3 L1158.2 1296.2 L1161.0 1300.2 L1164.0 1303.4 L1165.9 1305.0 L1167.0 1305.5 L1170.0 1307.8 L1173.0 1310.5 L1176.0 1311.2 L1177.6 1311.1 L1179.0 1310.8 L1182.0 1311.5 L1185.0 1312.0 L1188.0 1311.0 L1191.0 1310.7 L1194.0 1312.3 L1195.0 1312.3 L1197.0 1311.9 L1200.0 1312.2 L1203.0 1312.6 L1206.0 1312.7 L1209.0 1312.3 L1212.0 1313.2 L1215.0 1312.9 L1218.0 1312.3 L1218.3 1312.3 L1221.0 1312.7 L1224.0 1313.0 L1227.0 1313.3 L1230.0 1313.9 L1233.0 1312.7 L1236.0 1313.3 L1237.7 1314.5 L1239.0 1314.6 L1242.0 1313.9 L1245.0 1313.6 L1248.0 1314.2 L1251.0 1313.8 L1253.2 1313.4 L1254.0 1314.3 L1257.0 1313.9 L1260.0 1314.2 L1263.0 1314.3 L1266.0 1314.6 L1269.0 1314.7 L1272.0 1315.6" stroke="#00f" stroke-width="4.4"/>
<path d="M1392.0 851.2 L1393.6 852.9 L1395.2 852.9 L1396.8 852.0 L1398.4 850.5 L1400.0 855.4 L1401.6 856.1 L1403.2 852.9 L1404.8 857.1 L1405.0 854.4 L1406.4 858.4 L1408.0 855.8 L1409.6 854.6 L1411.2 856.6 L1412.8 855.1 L1414.4 855.2 L1416.0 855.1 L1417.6 854.8 L1419.2 855.8 L1420.8 856.1 L1422.4 855.5 L1422.5 857.4 L1424.0 853.6 L1425.6 855.7 L1427.2 858.7 L1428.8 857.5 L1430.0 862.0 L1430.4 861.2 L1432.0 861.7 L1433.6 864.4 L1435.2 864.4 L1436.8 864.2 L1437.5 867.4 L1438.4 867.5 L1440.0 866.4 L1441.6 866.2 L1443.2 863.5 L1444.8 865.2 L1446.4 865.6 L1448.0 866.6 L1449.6 868.1 L1451.2 865.6 L1452.5 865.2 L1452.8 867.5 L1454.4 866.2 L1456.0 864.9 L1457.6 868.7 L1459.2 866.5 L1460.8 867.4 L1462.4 867.1 L1464.0 869.2 L1465.0 870.1 L1465.6 868.3 L1467.2 869.3 L1468.8 868.1 L1470.4 871.8 L1472.0 870.7 L1473.6 868.0 L1475.2 869.4 L1476.8 870.0 L1478.4 869.3 L1480.0 867.8 L1480.0 868.5 L1481.6 869.4 L1483.2 868.1 L1484.8 865.2 L1486.4 865.4 L1487.5 862.4 L1488.0 860.4 L1489.6 861.1 L1491.2 859.1 L1492.8 855.4 L1494.4 854.0 L1495.0 853.5 L1496.0 850.5 L1497.6 847.4 L1499.2 846.6 L1500.8 843.3 L1502.4 843.7 L1504.0 842.1 L1505.0 841.5 L1505.6 842.0 L1507.2 835.8 L1508.8 837.5 L1510.4 834.1 L1512.0 834.8 L1512.5 834.0 L1513.6 832.4 L1515.2 835.0 L1516.8 833.1 L1518.4 834.9 L1520.0 833.7 L1521.6 834.2 L1522.5 835.1 L1523.2 837.7 L1524.8 837.3 L1526.4 838.0 L1528.0 842.1 L1529.6 841.8 L1531.2 842.8 L1532.5 842.5 L1532.8 844.0 L1534.4 844.3 L1536.0 843.5 L1537.6 842.2 L1539.2 844.7 L1540.8 845.1 L1542.4 844.5 L1542.5 843.8 L1544.0 843.6 L1545.6 844.2 L1547.2 846.4 L1548.8 844.5 L1550.4 841.9 L1551.2 844.6 L1552.0 842.6 L1553.6 843.4 L1555.2 835.7 L1556.8 831.6 L1557.5 830.3 L1558.4 828.3 L1560.0 824.0 L1561.6 820.1 L1563.2 816.7 L1563.8 815.5 L1564.8 814.5 L1566.4 811.6 L1568.0 810.8 L1569.6 809.6 L1571.2 809.4 L1571.2 809.4 L1572.8 810.5 L1574.4 813.2 L1576.0 814.6 L1577.6 817.6 L1579.2 819.8 L1580.0 819.6 L1580.8 820.2 L1582.4 821.6 L1584.0 819.6 L1585.6 823.1 L1587.2 821.9 L1587.5 817.7 L1588.8 822.1 L1590.4 817.1 L1592.0 817.6 L1592.5 815.0 L1593.6 816.9 L1595.2 821.9 L1596.8 824.8 L1598.4 828.3 L1598.8 829.9 L1600.0 832.9 L1601.6 833.6 L1603.2 834.8 L1604.8 834.4 L1606.2 835.6 L1606.4 836.5 L1608.0 837.9 L1609.6 838.8 L1611.2 843.8 L1612.8 845.0 L1614.4 847.0 L1615.0 848.9 L1616.0 849.7 L1617.6 852.7 L1619.2 853.4 L1620.8 853.9 L1622.4 855.5 L1623.8 855.5 L1624.0 855.9 L1625.6 858.7 L1627.2 858.2 L1628.8 857.7 L1630.4 858.1 L1632.0 858.0 L1632.5 858.5 L1633.6 856.7 L1635.2 858.8 L1636.8 856.5 L1638.4 856.4 L1640.0 855.1 L1641.2 852.9 L1641.6 850.8 L1643.2 847.8 L1644.8 846.8 L1646.4 842.5 L1648.0 835.2 L1648.8 833.8 L1649.6 833.9 L1651.2 826.7 L1652.8 823.4 L1654.4 817.5 L1655.0 817.5 L1656.0 815.6 L1657.6 814.4 L1659.2 812.4 L1660.8 810.2 L1662.4 814.7 L1664.0 814.0 L1665.6 812.0 L1667.2 813.9 L1668.8 810.6 L1668.8 814.5 L1670.4 813.9 L1672.0 817.3 L1673.6 815.4 L1675.2 821.8 L1676.2 822.5 L1676.8 822.3 L1678.4 822.7 L1680.0 826.1 L1681.6 827.4 L1682.5 826.7 L1683.2 825.9 L1684.8 826.6 L1686.4 827.5 L1688.0 830.0 L1688.8 830.3 L1689.6 832.2 L1691.2 836.1 L1692.8 839.7 L1693.8 842.8 L1694.4 843.1 L1696.0 846.1 L1697.6 849.6 L1699.2 848.4 L1700.0 848.2 L1700.8 848.7 L1702.4 844.3 L1704.0 837.8 L1705.0 831.3 L1705.6 828.8 L1707.2 820.6 L1708.8 814.5 L1710.0 811.5 L1710.4 810.1 L1712.0 816.3 L1713.6 817.5 L1715.2 822.9 L1716.8 826.6 L1717.5 826.4 L1718.4 828.1 L1720.0 828.8 L1720.0 829.1 L1721.6 828.5 L1723.2 825.5 L1724.8 822.5 L1726.4 822.2 L1728.0 817.6 L1729.6 816.9 L1730.0 815.6 L1731.2 817.2 L1732.8 812.0 L1734.4 808.5 L1736.0 808.9 L1737.6 809.4 L1739.2 808.7 L1740.8 806.6 L1741.2 804.6 L1742.4 804.3 L1744.0 798.7 L1745.6 796.6 L1747.2 792.8 L1748.8 790.8 L1748.8 791.6 L1750.4 781.8 L1752.0 772.7 L1752.5 769.5 L1753.6 765.5 L1755.2 761.9 L1755.8 763.3 L1756.8 763.6 L1758.4 770.2 L1760.0 777.9 L1761.2 779.6 L1761.6 777.9 L1763.2 781.0 L1764.8 778.4 L1766.4 778.4 L1768.0 778.0 L1769.6 778.6 L1771.2 777.2 L1772.8 777.7 L1774.4 779.1 L1776.0 775.5 L1777.5 773.9 L1777.6 777.9 L1779.2 776.4 L1780.8 776.6 L1782.4 776.3 L1784.0 774.6 L1785.6 775.0 L1787.2 772.2 L1788.8 774.1 L1790.4 774.1 L1792.0 772.3 L1793.6 772.9 L1793.8 773.6 L1795.2 774.4 L1796.8 774.2 L1798.4 776.9 L1800.0 776.7 L1801.6 777.2 L1802.5 774.0 L1803.2 775.1 L1804.8 771.1 L1806.4 764.0 L1807.5 761.5 L1808.0 759.5 L1809.6 755.9 L1811.2 754.4 L1812.5 753.9 L1812.8 753.4 L1814.4 754.8 L1816.0 758.0 L1817.6 759.0 L1818.8 759.8 L1819.2 759.4 L1820.8 757.2 L1822.4 753.3 L1823.8 752.4 L1824.0 749.3 L1825.6 737.5 L1827.2 721.1 L1827.5 718.2 L1828.8 710.8 L1830.4 704.7 L1831.2 702.3 L1832.0 705.7 L1833.6 709.5 L1835.2 715.4 L1836.2 719.7 L1836.8 717.1 L1838.4 716.4 L1840.0 719.5 L1841.6 715.3 L1843.2 713.5 L1844.8 711.4 L1846.4 712.4 L1847.5 711.6 L1848.0 706.7 L1849.6 708.9 L1851.2 708.3 L1852.8 707.9 L1854.4 704.9 L1856.0 706.3 L1856.2 708.6 L1857.6 708.5 L1859.2 707.6 L1860.8 711.7 L1862.4 712.2 L1863.8 714.9 L1864.0 710.1 L1865.6 715.0 L1867.2 714.2 L1868.8 715.2 L1870.4 712.3 L1872.0 713.5 L1873.6 712.5 L1875.0 714.5 L1875.2 714.2 L1876.8 715.9 L1878.4 713.3 L1880.0 707.9 L1881.6 709.4 L1883.2 707.2 L1883.8 707.7 L1884.8 705.8 L1886.4 700.8 L1888.0 697.8 L1889.6 696.0 L1891.2 690.2 L1892.5 689.1 L1892.8 687.1 L1894.4 688.0 L1896.0 686.5 L1897.6 683.6 L1899.2 680.5 L1900.8 679.0 L1901.2 678.6 L1902.4 675.8 L1904.0 671.2 L1905.6 663.2 L1907.2 659.0 L1907.5 658.9 L1908.8 659.2 L1910.4 654.7 L1912.0 654.8 L1913.6 654.3 L1915.2 649.8 L1916.8 647.3 L1917.5 646.4 L1918.4 648.0 L1920.0 644.9 L1921.6 640.7 L1923.2 636.0 L1924.8 633.6 L1926.2 628.0 L1926.4 630.2 L1928.0 624.3 L1929.6 618.8 L1931.2 618.1 L1931.2 614.9 L1932.8 615.9 L1934.4 620.8 L1936.0 624.7 L1937.5 623.7 L1937.6 623.7 L1939.2 625.6 L1940.8 627.3 L1942.4 626.1 L1944.0 628.6 L1945.0 630.2 L1945.6 627.2 L1947.2 625.9 L1948.8 627.9 L1950.4 621.0 L1952.0 621.2 L1952.5 620.0 L1953.6 611.0 L1955.0 605.8 L1955.2 606.4 L1956.8 601.0 L1958.4 596.6 L1960.0 597.1 L1961.6 599.1 L1963.2 593.2 L1963.8 595.0 L1964.8 590.0 L1966.4 587.4 L1968.0 582.8 L1969.6 578.6 L1970.0 578.1 L1971.2 572.1 L1972.8 561.8 L1974.4 554.5 L1975.0 552.2 L1976.0 549.1 L1977.6 545.1 L1979.2 541.7 L1980.8 539.9 L1981.2 541.5 L1982.4 536.5 L1984.0 533.7 L1985.6 529.4 L1987.2 526.9 L1988.8 526.8 L1988.8 524.4 L1990.4 522.0 L1992.0 520.0 L1992.5 517.9 L1993.6 522.5 L1995.2 531.2 L1996.8 541.9 L1997.5 543.8 L1998.4 549.7 L2000.0 555.9 L2001.6 566.4 L2003.2 571.0 L2003.8 570.6 L2004.8 571.5 L2006.4 568.6 L2008.0 568.5 L2009.6 566.0 L2010.0 567.5 L2011.2 561.6 L2012.8 552.7 L2013.8 547.6 L2014.4 549.4 L2016.0 550.1 L2017.6 552.6 L2019.2 555.2 L2020.0 556.9 L2020.8 557.0 L2022.4 554.2 L2024.0 557.2 L2025.6 555.7 L2027.2 558.1 L2028.8 557.5 L2028.8 559.9 L2030.4 561.2 L2032.0 562.7 L2033.6 564.3 L2035.0 566.5 L2035.2 567.3 L2036.8 575.2 L2038.4 581.6 L2038.8 582.3 L2040.0 582.3 L2041.6 579.2 L2043.2 579.5 L2044.8 579.8 L2045.0 579.2 L2046.4 577.1 L2048.0 573.2 L2049.6 574.3 L2051.2 569.1 L2052.5 565.2 L2052.8 567.3 L2054.4 565.4 L2056.0 563.1 L2057.6 561.3 L2058.8 558.2 L2059.2 560.7 L2060.8 555.1 L2062.4 548.1 L2064.0 545.4 L2065.6 537.8 L2066.2 540.0 L2067.2 536.6 L2068.8 534.3 L2070.4 531.4 L2072.0 527.6 L2073.6 529.2 L2073.8 526.3 L2075.2 526.5 L2076.8 525.6 L2078.4 525.0 L2080.0 523.9 L2080.0 526.4 L2081.6 524.5 L2083.2 522.8 L2084.8 516.4 L2086.4 512.2 L2088.0 508.9 L2088.8 507.5 L2089.6 505.4 L2091.2 499.2 L2092.8 497.5 L2094.4 494.1 L2095.0 493.0 L2096.0 489.9 L2097.6 487.1 L2099.2 485.5 L2100.8 482.5 L2101.2 480.1 L2102.4 477.6 L2104.0 474.4 L2105.6 472.0 L2107.2 467.6 L2108.0 465.8 L2108.8 465.3 L2110.4 458.3 L2111.7 454.3 L2112.0 454.7 L2113.6 452.2 L2114.9 448.7 L2115.2 446.1 L2116.8 451.3 L2118.4 454.1 L2118.6 454.7 L2120.0 456.1 L2121.6 463.9 L2121.8 464.9 L2123.2 481.1 L2124.8 502.3 L2126.2 518.8 L2126.4 519.1 L2128.0 532.6 L2129.6 539.8 L2131.2 548.5 L2132.5 552.3 L2132.8 554.3 L2134.4 557.4 L2136.0 563.3 L2137.6 565.7 L2139.2 569.3 L2140.0 573.7 L2140.8 573.3 L2142.4 580.5 L2144.0 585.7 L2145.0 587.8 L2145.6 588.6 L2147.2 592.3 L2148.8 592.3 L2150.4 596.9 L2152.0 598.4 L2153.6 598.2 L2155.0 598.7 L2155.2 597.4 L2156.8 598.5 L2158.4 599.4 L2160.0 601.1 L2161.6 603.4 L2163.2 599.8 L2164.8 603.6 L2166.4 603.4 L2167.5 604.2 L2168.0 604.3 L2169.6 604.8 L2171.2 607.2 L2172.8 610.0 L2174.4 613.8 L2176.0 614.2 L2177.5 618.0 L2177.6 617.9 L2179.2 617.6 L2180.8 619.7 L2182.4 622.1 L2184.0 620.1 L2185.6 621.8 L2187.2 625.4 L2188.8 627.1 L2190.0 626.6 L2190.4 626.9 L2192.0 632.7 L2193.6 638.7 L2195.2 641.1 L2196.8 643.5 L2197.5 646.5 L2198.4 646.1 L2200.0 643.5 L2201.6 643.9 L2203.2 644.7 L2204.8 646.3 L2205.0 646.0 L2206.4 642.8 L2208.0 634.2 L2209.6 632.3 L2210.0 626.5 L2211.2 623.2 L2212.8 614.1 L2213.8 610.7 L2214.4 610.5 L2216.0 609.0 L2217.5 608.5 L2217.6 608.8 L2219.2 614.7 L2220.8 627.3 L2221.2 628.2 L2222.4 637.5 L2224.0 646.7 L2225.6 647.1 L2226.2 650.7 L2227.2 656.2 L2228.8 660.2 L2230.4 663.2 L2232.0 666.2" stroke="#f00" stroke-width="5"/>
<path d="M1392.0 1096.2 L1394.0 1098.4 L1396.0 1100.4 L1398.0 1101.9 L1400.0 1102.5 L1402.0 1102.4 L1404.0 1102.3 L1406.0 1102.0 L1408.0 1101.7 L1410.0 1101.4 L1412.0 1101.1 L1414.0 1100.8 L1416.0 1100.6 L1417.5 1100.5 L1418.0 1100.5 L1420.0 1100.4 L1422.0 1100.4 L1424.0 1100.3 L1426.0 1100.3 L1428.0 1100.2 L1430.0 1100.2 L1432.0 1100.2 L1434.0 1100.1 L1436.0 1100.1 L1437.5 1100.0 L1438.0 1100.0 L1440.0 1099.9 L1442.0 1099.7 L1444.0 1099.5 L1446.0 1099.3 L1448.0 1098.9 L1448.8 1098.8 L1450.0 1097.8 L1452.0 1095.1 L1453.8 1093.8 L1454.0 1093.8 L1456.0 1094.0 L1458.0 1094.5 L1460.0 1095.1 L1462.0 1095.7 L1464.0 1096.1 L1465.0 1096.2 L1466.0 1096.3 L1468.0 1096.5 L1470.0 1096.7 L1472.0 1096.8 L1474.0 1096.9 L1476.0 1097.0 L1477.5 1097.0 L1478.0 1097.0 L1480.0 1096.6 L1482.0 1095.9 L1484.0 1094.8 L1486.0 1093.5 L1487.5 1092.5 L1488.0 1092.1 L1490.0 1090.0 L1492.0 1087.2 L1494.0 1084.1 L1495.0 1082.5 L1496.0 1080.8 L1498.0 1076.8 L1500.0 1073.0 L1501.2 1071.2 L1502.0 1070.4 L1504.0 1068.7 L1506.0 1067.3 L1508.0 1065.7 L1508.8 1065.0 L1510.0 1063.3 L1512.0 1060.1 L1513.8 1058.8 L1514.0 1058.8 L1516.0 1059.3 L1518.0 1060.3 L1520.0 1061.5 L1522.0 1062.4 L1522.5 1062.5 L1524.0 1062.8 L1526.0 1063.1 L1528.0 1063.4 L1530.0 1063.6 L1532.0 1063.7 L1532.5 1063.8 L1534.0 1063.6 L1536.0 1063.2 L1538.0 1062.6 L1540.0 1061.8 L1542.0 1061.0 L1544.0 1060.3 L1545.0 1060.0 L1546.0 1059.7 L1548.0 1059.3 L1550.0 1058.9 L1552.0 1058.4 L1554.0 1057.9 L1555.0 1057.5 L1556.0 1056.9 L1558.0 1055.0 L1560.0 1052.6 L1562.0 1050.7 L1563.8 1050.0 L1564.0 1050.0 L1566.0 1050.0 L1568.0 1050.0 L1570.0 1050.0 L1572.0 1050.0 L1573.8 1050.0 L1574.0 1050.0 L1576.0 1047.9 L1578.0 1044.8 L1579.5 1043.8 L1580.0 1043.9 L1582.0 1047.0 L1584.0 1051.2 L1585.0 1052.5 L1586.0 1053.3 L1588.0 1054.7 L1590.0 1055.7 L1592.0 1056.2 L1592.5 1056.2 L1594.0 1056.2 L1596.0 1056.2 L1598.0 1056.2 L1600.0 1056.2 L1602.0 1056.2 L1602.5 1056.2 L1604.0 1056.5 L1606.0 1057.3 L1608.0 1058.5 L1610.0 1060.1 L1612.0 1061.6 L1614.0 1063.1 L1615.0 1063.8 L1616.0 1064.4 L1618.0 1065.9 L1620.0 1067.4 L1622.0 1068.6 L1624.0 1069.4 L1625.0 1069.5 L1626.0 1069.5 L1628.0 1069.4 L1630.0 1069.3 L1632.0 1069.1 L1634.0 1068.9 L1635.0 1068.8 L1636.0 1068.5 L1638.0 1067.3 L1640.0 1065.5 L1642.0 1063.3 L1644.0 1061.1 L1645.0 1060.0 L1646.0 1058.9 L1648.0 1056.7 L1650.0 1054.2 L1652.0 1051.6 L1654.0 1048.9 L1655.0 1047.5 L1656.0 1045.9 L1658.0 1042.0 L1660.0 1037.9 L1662.0 1034.8 L1663.8 1033.8 L1664.0 1033.8 L1666.0 1034.1 L1668.0 1035.0 L1670.0 1036.1 L1672.0 1037.2 L1672.5 1037.5 L1674.0 1038.4 L1676.0 1039.9 L1678.0 1041.6 L1680.0 1043.2 L1682.0 1044.7 L1682.5 1045.0 L1684.0 1045.9 L1686.0 1047.1 L1688.0 1048.2 L1690.0 1049.2 L1692.0 1049.9 L1692.5 1050.0 L1694.0 1050.4 L1696.0 1050.8 L1698.0 1051.1 L1700.0 1051.2 L1702.0 1050.6 L1704.0 1048.9 L1706.0 1046.7 L1707.5 1045.0 L1708.0 1044.4 L1710.0 1041.8 L1712.0 1038.6 L1714.0 1035.1 L1716.0 1031.5 L1717.5 1028.8 L1718.0 1027.8 L1720.0 1023.7 L1722.0 1019.4 L1724.0 1015.2 L1726.0 1011.6 L1726.2 1011.2 L1728.0 1008.9 L1730.0 1006.5 L1732.0 1004.3 L1734.0 1002.3 L1735.0 1001.2 L1736.0 1000.3 L1738.0 998.7 L1740.0 997.3 L1742.0 995.8 L1744.0 994.0 L1746.0 991.6 L1746.2 991.2 L1748.0 986.7 L1750.0 978.7 L1752.0 971.4 L1753.8 968.8 L1754.0 968.8 L1756.0 969.4 L1758.0 970.5 L1760.0 971.8 L1762.0 972.5 L1762.5 972.5 L1764.0 972.3 L1766.0 971.5 L1768.0 970.3 L1770.0 969.0 L1772.0 967.8 L1772.5 967.5 L1774.0 966.8 L1776.0 965.8 L1778.0 964.9 L1780.0 963.9 L1782.0 962.8 L1782.5 962.5 L1784.0 961.5 L1786.0 960.1 L1788.0 958.6 L1790.0 957.0 L1792.0 955.4 L1792.5 955.0 L1794.0 953.9 L1796.0 952.6 L1798.0 951.2 L1800.0 949.7 L1802.0 948.0 L1803.8 946.2 L1804.0 946.0 L1806.0 943.1 L1808.0 939.6 L1810.0 935.5 L1812.0 931.1 L1812.5 930.0 L1814.0 926.5 L1816.0 921.5 L1818.0 916.0 L1820.0 910.0 L1822.0 903.9 L1824.0 897.1 L1826.0 888.7 L1826.2 887.5 L1828.0 874.0 L1830.0 860.0 L1832.0 855.1 L1833.8 852.5 L1834.0 852.2 L1836.0 850.5 L1838.0 849.3 L1840.0 847.5 L1842.0 843.5 L1844.0 837.7 L1846.0 832.3 L1847.5 830.0 L1848.0 829.6 L1850.0 828.4 L1852.0 827.5 L1854.0 826.7 L1855.0 826.2 L1856.0 825.8 L1858.0 824.8 L1860.0 823.9 L1862.0 823.0 L1864.0 821.9 L1865.0 821.2 L1866.0 820.6 L1868.0 819.1 L1870.0 817.4 L1872.0 815.5 L1874.0 813.5 L1875.0 812.5 L1876.0 811.5 L1878.0 809.4 L1880.0 807.1 L1882.0 804.3 L1883.8 801.2 L1884.0 800.8 L1886.0 795.6 L1888.0 788.6 L1890.0 780.0 L1892.0 767.9 L1893.8 755.0 L1894.0 753.1 L1896.0 736.3 L1896.2 735.0 L1898.0 727.9 L1900.0 722.4 L1901.2 721.2 L1902.0 721.4 L1904.0 723.0 L1906.0 725.5 L1908.0 727.8 L1910.0 728.8 L1912.0 727.1 L1914.0 723.0 L1916.0 718.1 L1916.2 717.5 L1918.0 711.6 L1920.0 703.6 L1921.2 700.0 L1922.0 698.6 L1924.0 695.7 L1926.0 693.3 L1927.5 691.2 L1928.0 690.5 L1930.0 687.2 L1932.0 683.6 L1934.0 679.7 L1935.0 677.5 L1936.0 675.0 L1938.0 669.0 L1940.0 663.8 L1942.0 660.0 L1944.0 656.8 L1946.0 653.7 L1947.5 651.2 L1948.0 650.3 L1950.0 645.7 L1952.0 641.5 L1953.8 640.0 L1954.0 640.0 L1956.0 640.9 L1958.0 642.4 L1960.0 643.8 L1962.0 644.8 L1964.0 645.8 L1966.0 646.2 L1966.2 646.2 L1968.0 645.7 L1970.0 644.1 L1972.0 641.8 L1972.5 641.2 L1974.0 639.0 L1976.0 634.7 L1978.0 629.5 L1978.8 627.5 L1980.0 623.4 L1982.0 615.2 L1984.0 607.6 L1985.0 605.0 L1986.0 603.0 L1988.0 599.3 L1990.0 596.8 L1991.2 596.2 L1992.0 597.4 L1994.0 607.3 L1995.0 612.5 L1996.0 617.6 L1998.0 628.9 L2000.0 635.0 L2002.0 635.8 L2004.0 636.2 L2005.0 636.2 L2006.0 635.7 L2008.0 632.6 L2010.0 630.0 L2012.0 629.1 L2014.0 628.6 L2016.0 627.7 L2016.2 627.5 L2018.0 625.1 L2020.0 620.1 L2021.2 616.2 L2022.0 613.1 L2024.0 600.3 L2026.0 588.5 L2026.2 587.5 L2028.0 582.2 L2030.0 577.6 L2031.2 575.0 L2032.0 573.6 L2034.0 570.5 L2036.0 567.2 L2037.5 563.8 L2038.0 562.1 L2040.0 551.1 L2042.0 538.0 L2042.5 535.0 L2044.0 526.5 L2046.0 515.3 L2047.5 507.5 L2048.0 505.1 L2050.0 496.5 L2052.0 487.7 L2053.8 480.0 L2054.0 478.6 L2056.0 467.5 L2058.0 456.5 L2060.0 445.4 L2060.3 443.7 L2062.0 432.7 L2064.0 419.7 L2066.0 406.7 L2066.6 402.9 L2068.0 395.5 L2070.0 385.1 L2072.0 374.7 L2072.9 370.3 L2074.0 364.5 L2076.0 354.3 L2078.0 344.1 L2079.1 338.3 L2080.0 334.2 L2081.0 329.6 L2082.0 327.8 L2084.0 324.2 L2086.0 320.6 L2088.0 317.0 L2090.0 313.4 L2090.4 312.6 L2092.0 309.8 L2094.0 306.2 L2096.0 302.6 L2098.0 299.1 L2099.2 297.0 L2100.0 295.8 L2102.0 292.8 L2102.3 292.3 L2104.0 294.8 L2105.5 297.0 L2106.0 300.3 L2108.0 312.7 L2109.2 320.2 L2110.0 326.0 L2112.0 341.0 L2114.0 356.0 L2114.2 357.8 L2116.0 371.0 L2118.0 386.0 L2119.2 395.4 L2120.0 401.7 L2122.0 418.3 L2123.0 426.7 L2124.0 436.6 L2126.0 456.6 L2126.1 458.1 L2128.0 483.1 L2130.0 510.0 L2132.0 528.7 L2133.8 545.0 L2134.0 547.3 L2136.0 565.7 L2137.5 580.0 L2138.0 585.1 L2140.0 606.9 L2141.2 620.0 L2142.0 627.5 L2144.0 646.7 L2145.0 655.0 L2146.0 662.4 L2148.0 675.6 L2150.0 687.5 L2152.0 698.8 L2154.0 709.2 L2156.0 718.9 L2156.2 720.0 L2158.0 727.7 L2160.0 736.0 L2162.0 743.3 L2162.5 745.0 L2164.0 749.6 L2166.0 755.0 L2168.0 760.1 L2170.0 765.0 L2172.0 769.8 L2174.0 774.3 L2176.0 778.9 L2177.5 782.5 L2178.0 783.8 L2180.0 789.2 L2182.0 794.8 L2184.0 800.1 L2185.0 802.5 L2186.0 804.8 L2188.0 809.1 L2190.0 813.0 L2191.2 815.0 L2192.0 816.1 L2194.0 818.8 L2196.0 821.3 L2198.0 823.4 L2200.0 825.0 L2202.0 826.2 L2204.0 827.0 L2206.0 827.8 L2208.0 828.7 L2210.0 830.0 L2212.0 832.3 L2214.0 835.6 L2216.0 839.5 L2216.2 840.0 L2218.0 844.5 L2220.0 850.9 L2222.0 856.5 L2222.5 857.5 L2224.0 860.2 L2226.0 863.6 L2228.0 866.4 L2230.0 868.7 L2232.0 870.0" stroke="#000" stroke-width="4.2"/>
<path d="M1392.0 1275.0 L1395.0 1274.6 L1398.0 1274.1 L1401.0 1274.1 L1404.0 1273.7 L1407.0 1273.7 L1410.0 1273.8 L1412.5 1273.3 L1413.0 1273.8 L1416.0 1274.4 L1419.0 1274.6 L1422.0 1275.4 L1425.0 1276.2 L1427.5 1276.2 L1428.0 1276.1 L1431.0 1275.6 L1434.0 1275.7 L1437.0 1275.5 L1440.0 1275.2 L1442.5 1274.6 L1443.0 1275.3 L1446.0 1275.7 L1449.0 1276.2 L1452.0 1277.8 L1455.0 1278.2 L1457.5 1277.8 L1458.0 1278.0 L1461.0 1277.4 L1464.0 1277.8 L1467.0 1277.4 L1470.0 1276.8 L1473.0 1277.0 L1475.0 1276.4 L1476.0 1276.7 L1479.0 1276.4 L1482.0 1276.7 L1485.0 1276.9 L1488.0 1277.7 L1490.0 1278.2 L1491.0 1277.6 L1494.0 1277.5 L1497.0 1277.0 L1500.0 1276.6 L1503.0 1275.8 L1506.0 1274.7 L1507.5 1274.3 L1509.0 1274.5 L1512.0 1274.3 L1515.0 1272.9 L1518.0 1271.5 L1520.0 1271.7 L1521.0 1271.4 L1524.0 1270.8 L1527.0 1270.5 L1530.0 1270.2 L1533.0 1269.9 L1535.0 1269.6 L1536.0 1270.0 L1539.0 1270.0 L1542.0 1270.3 L1545.0 1270.0 L1548.0 1269.4 L1550.0 1269.7 L1551.0 1270.4 L1554.0 1269.5 L1557.0 1268.2 L1560.0 1267.3 L1562.5 1267.1 L1563.0 1267.3 L1566.0 1267.4 L1569.0 1268.5 L1572.0 1268.9 L1575.0 1269.5 L1578.0 1270.8 L1581.0 1272.2 L1584.0 1272.9 L1587.0 1273.7 L1587.5 1274.0 L1590.0 1274.2 L1593.0 1274.0 L1596.0 1274.8 L1599.0 1275.3 L1600.0 1275.2 L1602.0 1274.8 L1605.0 1274.8 L1608.0 1274.8 L1611.0 1274.8 L1614.0 1275.3 L1615.0 1275.6 L1617.0 1274.7 L1620.0 1272.5 L1622.5 1271.5 L1623.0 1271.4 L1626.0 1274.2 L1628.8 1276.1 L1629.0 1276.1 L1632.0 1273.9 L1635.0 1269.8 L1636.2 1268.8 L1638.0 1269.3 L1641.0 1271.9 L1643.8 1273.8 L1644.0 1273.9 L1647.0 1268.6 L1650.0 1262.5 L1653.0 1257.8 L1654.5 1257.3 L1656.0 1258.6 L1659.0 1265.3 L1660.0 1266.3 L1662.0 1267.9 L1665.0 1270.2 L1668.0 1272.0 L1670.0 1272.8 L1671.0 1272.6 L1674.0 1273.9 L1677.0 1274.9 L1680.0 1275.6 L1683.0 1275.9 L1685.0 1276.7 L1686.0 1276.3 L1689.0 1275.5 L1692.0 1275.1 L1695.0 1273.9 L1698.0 1269.0 L1701.0 1260.2 L1702.5 1255.2 L1704.0 1248.5 L1707.0 1234.1 L1707.5 1232.7 L1710.0 1228.1 L1711.2 1227.3 L1713.0 1232.8 L1716.0 1249.3 L1716.2 1249.7 L1719.0 1254.6 L1722.0 1258.3 L1722.5 1258.4 L1725.0 1258.8 L1728.0 1260.1 L1731.0 1260.6 L1734.0 1261.2 L1737.0 1261.2 L1737.5 1260.9 L1740.0 1260.5 L1743.0 1259.6 L1746.0 1257.6 L1747.5 1256.0 L1749.0 1245.2 L1751.2 1219.5 L1752.0 1214.3 L1753.8 1205.7 L1755.0 1211.1 L1757.5 1232.7 L1758.0 1236.3 L1760.0 1246.9 L1761.0 1245.8 L1764.0 1243.6 L1767.0 1241.1 L1768.8 1240.4 L1770.0 1240.4 L1773.0 1244.1 L1775.0 1246.8 L1776.0 1246.7 L1779.0 1248.4 L1782.0 1250.0 L1785.0 1250.9 L1787.5 1252.6 L1788.0 1252.7 L1790.0 1254.6 L1791.0 1255.2 L1794.0 1257.1 L1797.0 1258.4 L1800.0 1259.6 L1803.0 1259.7 L1805.0 1259.9 L1806.0 1260.2 L1809.0 1260.0 L1812.0 1258.8 L1815.0 1258.2 L1818.0 1257.0 L1820.0 1256.3 L1821.0 1255.8 L1824.0 1253.0 L1827.0 1248.5 L1827.5 1247.0 L1830.0 1239.9 L1833.0 1230.4 L1835.0 1227.5 L1836.0 1227.9 L1839.0 1229.1 L1842.0 1229.8 L1842.5 1230.2 L1845.0 1228.0 L1848.0 1223.1 L1850.0 1222.8 L1851.0 1222.2 L1854.0 1222.9 L1857.0 1224.0 L1860.0 1224.4 L1862.5 1224.0 L1863.0 1224.6 L1866.0 1224.1 L1869.0 1223.6 L1872.0 1223.5 L1875.0 1223.4 L1878.0 1221.4 L1881.0 1217.5 L1884.0 1212.4 L1887.0 1208.0 L1887.5 1207.2 L1890.0 1204.3 L1893.0 1200.9 L1896.0 1197.4 L1899.0 1195.4 L1900.0 1194.9 L1902.0 1194.4 L1905.0 1194.3 L1908.0 1194.0 L1910.0 1193.9 L1911.0 1193.4 L1914.0 1190.4 L1917.0 1185.5 L1920.0 1182.4 L1923.0 1181.0 L1926.0 1180.4 L1929.0 1180.2 L1930.0 1179.9 L1932.0 1180.4 L1935.0 1182.4 L1937.5 1183.8 L1938.0 1183.9 L1941.0 1186.1 L1944.0 1187.5 L1945.0 1187.6 L1947.0 1186.9 L1950.0 1183.0 L1952.5 1178.8 L1953.0 1177.9 L1956.0 1173.6 L1959.0 1168.5 L1960.0 1166.1 L1962.0 1162.8 L1965.0 1156.1 L1966.3 1153.1 L1968.0 1147.8 L1971.0 1139.3 L1972.5 1135.3 L1974.0 1132.1 L1976.9 1127.4 L1977.0 1127.5 L1980.0 1126.5 L1980.7 1126.4 L1983.0 1127.3 L1986.0 1129.4 L1986.3 1129.9 L1989.0 1135.0 L1991.3 1141.2 L1992.0 1143.1 L1995.0 1151.9 L1996.4 1155.8 L1998.0 1160.0 L2001.0 1166.6 L2002.6 1170.3 L2004.0 1173.4 L2007.0 1178.2 L2008.9 1179.7 L2010.0 1180.3 L2013.0 1180.9 L2015.2 1181.8 L2016.0 1182.2 L2019.0 1184.7 L2021.4 1185.8 L2022.0 1185.4 L2025.0 1185.9 L2028.0 1186.4 L2030.2 1186.0 L2031.0 1185.9 L2034.0 1185.3 L2037.0 1185.7 L2039.0 1185.4 L2040.0 1183.8 L2043.0 1176.5 L2044.0 1175.1 L2046.0 1173.6 L2049.0 1171.3 L2050.3 1170.5 L2052.0 1169.1 L2055.0 1167.3 L2056.6 1166.7 L2058.0 1164.9 L2061.0 1158.4 L2062.8 1155.7 L2064.0 1153.9 L2067.0 1151.0 L2070.0 1149.5 L2070.3 1149.7 L2073.0 1148.2 L2076.0 1147.5 L2077.9 1146.6 L2079.0 1146.4 L2082.0 1146.0 L2085.0 1145.0 L2085.4 1145.2 L2088.0 1142.0 L2089.2 1139.1 L2091.0 1132.3 L2092.9 1124.4 L2094.0 1119.5 L2096.7 1109.7 L2097.0 1109.0 L2099.8 1103.5 L2100.0 1104.0 L2103.0 1102.9 L2105.5 1101.2 L2106.0 1099.6 L2108.6 1080.9 L2109.0 1077.2 L2111.1 1063.5 L2112.0 1063.5 L2113.6 1063.4 L2115.0 1070.4 L2116.1 1079.9 L2118.0 1099.6 L2118.6 1105.2 L2121.0 1117.2 L2123.0 1124.8 L2124.0 1129.8 L2127.0 1142.8 L2128.0 1146.6 L2130.0 1154.4 L2133.0 1165.3 L2133.0 1165.2 L2136.0 1172.4 L2139.0 1179.6 L2139.3 1180.1 L2142.0 1187.3 L2145.0 1194.9 L2145.6 1196.5 L2148.0 1203.3 L2151.0 1211.6 L2151.8 1213.0 L2154.0 1216.9 L2157.0 1222.4 L2158.1 1223.9 L2160.0 1226.2 L2163.0 1229.5 L2164.4 1230.9 L2166.0 1232.5 L2169.0 1234.2 L2172.0 1236.8 L2173.2 1237.7 L2175.0 1238.0 L2178.0 1238.6 L2181.0 1240.3 L2184.0 1242.0 L2185.0 1241.9 L2187.0 1243.6 L2190.0 1246.3 L2193.0 1248.7 L2196.0 1251.3 L2199.0 1252.8 L2200.0 1252.5 L2202.0 1252.5 L2205.0 1252.3 L2208.0 1252.2 L2211.0 1252.4 L2212.5 1252.7 L2214.0 1252.8 L2217.0 1254.4 L2220.0 1257.4 L2223.0 1259.0 L2226.0 1261.2 L2229.0 1263.7 L2232.0 1265.0" stroke="#00f" stroke-width="4.6"/>
</g>
<g stroke="#1c1c1c" stroke-width="5" fill="none" stroke-linecap="butt">
<path d="M405 170 H1272 V1376"/>
<path d="M432 170 V1376"/>
<path d="M405 1376 H1274.5"/>
<path d="M1392 1376 V170 H2245"/>
<path d="M2232 170 V1376"/>
<path d="M1389.5 1376 H2258"/>
<path d="M405 1074.5 H432"/>
<path d="M405 773.0 H432"/>
<path d="M405 471.5 H432"/>
<path d="M417 1225.2 H432"/>
<path d="M417 923.8 H432"/>
<path d="M417 622.2 H432"/>
<path d="M417 320.8 H432"/>
<path d="M2232 1108.0 H2258"/>
<path d="M2232 840.2 H2258"/>
<path d="M2232 572.4 H2258"/>
<path d="M2232 304.6 H2258"/>
<path d="M2232 1241.9 H2246"/>
<path d="M2232 974.1 H2246"/>
<path d="M2232 706.3 H2246"/>
<path d="M2232 438.5 H2246"/>
<path d="M491.9 1376 V1401"/>
<path d="M791.4 1376 V1401"/>
<path d="M1090.9 1376 V1401"/>
<path d="M641.6 1376 V1389"/>
<path d="M941.1 1376 V1389"/>
<path d="M1240.7 1376 V1389"/>
<path d="M1451.9 1376 V1401"/>
<path d="M1751.4 1376 V1401"/>
<path d="M2050.9 1376 V1401"/>
<path d="M1601.7 1376 V1389"/>
<path d="M1901.2 1376 V1389"/>
<path d="M2200.7 1376 V1389"/>
</g>
<g font-family="'Liberation Sans', sans-serif" text-rendering="geometricPrecision" fill="#000" stroke="#000" stroke-width="0.7" stroke-linejoin="round">
<text x="861" y="114" font-size="105" text-anchor="middle">0.150 mW</text>
<text x="1842" y="118.5" font-size="105" text-anchor="middle">1.9 mW</text>
<text x="387.5" y="1408.0" font-size="105" text-anchor="end">0.0</text>
<text x="387.5" y="1106.5" font-size="105" text-anchor="end">0.5</text>
<text x="387.5" y="805.0" font-size="105" text-anchor="end">1.0</text>
<text x="387.5" y="503.5" font-size="105" text-anchor="end">1.5</text>
<text x="387.5" y="202.0" font-size="105" text-anchor="end">2.0</text>
<text x="2271" y="1407.8" font-size="105">0</text>
<text x="2271" y="1140.0" font-size="105">1</text>
<text x="2271" y="872.2" font-size="105">2</text>
<text x="2271" y="604.4" font-size="105">3</text>
<text x="2271" y="336.6" font-size="105">4</text>
<text x="491.9" y="1499" font-size="105" text-anchor="middle">500</text>
<text x="791.4" y="1499" font-size="105" text-anchor="middle">1000</text>
<text x="1090.9" y="1499" font-size="105" text-anchor="middle">1500</text>
<text x="1451.9" y="1499" font-size="105" text-anchor="middle">500</text>
<text x="1751.4" y="1499" font-size="105" text-anchor="middle">1000</text>
<text x="2050.9" y="1499" font-size="105" text-anchor="middle">1500</text>
<text x="937" y="1651" font-size="105">Raman shift (cm<tspan font-size="61" dy="-52">-1</tspan><tspan dy="52" dx="9">)</tspan></text>
<text transform="translate(179.5 726) rotate(-90)" font-size="105.7" text-anchor="middle">Intensity x10<tspan font-size="61" dy="-48">3</tspan><tspan dy="48"> (a.u.)</tspan></text>
<text x="453" y="379" font-size="77">AgNWs@</text>
<text x="453.5" y="472.5" font-size="76.6">Nitrocellulose</text>
<text x="903" y="642.5" font-size="77" fill="#f00" stroke="#f00">AgNWs@</text>
<text x="903" y="736" font-size="77" fill="#f00" stroke="#f00">PTFE</text>
<text x="659" y="1201" font-size="77" fill="#00f" stroke="#00f">AgNWs@</text>
<text x="659" y="1294" font-size="77" fill="#00f" stroke="#00f">G-paper</text>
<text x="1472" y="1027.5" font-size="91" textLength="40" lengthAdjust="spacingAndGlyphs">x</text>
<text x="1534" y="1027.5" font-size="91" textLength="80" lengthAdjust="spacingAndGlyphs">10</text>
<text x="1620" y="999" font-size="54" textLength="33" lengthAdjust="spacingAndGlyphs">-1</text>
</g>
</svg>
</body></html>
